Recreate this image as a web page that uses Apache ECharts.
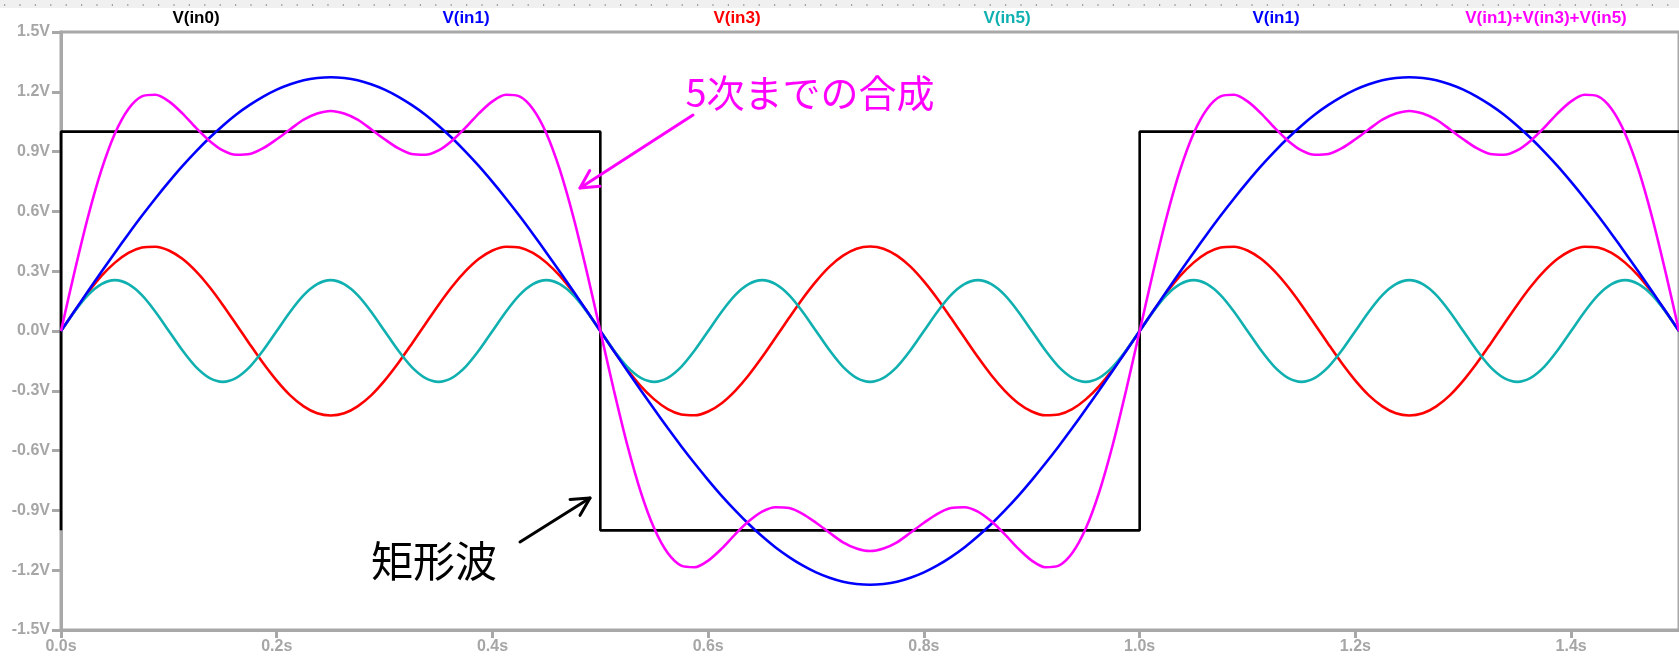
<!DOCTYPE html>
<html>
<head>
<meta charset="utf-8">
<script src="https://cdn.jsdelivr.net/npm/echarts@6/dist/echarts.min.js"></script>
<style>
html, body { margin: 0; padding: 0; background: #fff; }
#main { width: 1679px; height: 661px; }
</style>
</head>
<body>
<div id="main"></div>
<script>
// 時間軸 (s)
var time = [
    0, 0.0125, 0.025, 0.0375, 0.05, 0.0625, 0.075, 0.0875, 0.1, 0.1125,
    0.125, 0.1375, 0.15, 0.1625, 0.175, 0.1875, 0.2, 0.2125, 0.225, 0.2375,
    0.25, 0.2625, 0.275, 0.2875, 0.3, 0.3125, 0.325, 0.3375, 0.35, 0.3625,
    0.375, 0.3875, 0.4, 0.4125, 0.425, 0.4375, 0.45, 0.4625, 0.475, 0.4875,
    0.5,
    0.5125, 0.525, 0.5375, 0.55, 0.5625, 0.575, 0.5875, 0.6, 0.6125, 0.625,
    0.6375, 0.65, 0.6625, 0.675, 0.6875, 0.7, 0.7125, 0.725, 0.7375, 0.75,
    0.7625, 0.775, 0.7875, 0.8, 0.8125, 0.825, 0.8375, 0.85, 0.8625, 0.875,
    0.8875, 0.9, 0.9125, 0.925, 0.9375, 0.95, 0.9625, 0.975, 0.9875, 1.0,
    1.0125, 1.025, 1.0375, 1.05, 1.0625, 1.075, 1.0875, 1.1, 1.1125, 1.125,
    1.1375, 1.15, 1.1625, 1.175, 1.1875, 1.2, 1.2125, 1.225, 1.2375, 1.25,
    1.2625, 1.275, 1.2875, 1.3, 1.3125, 1.325, 1.3375, 1.35, 1.3625, 1.375,
    1.3875, 1.4, 1.4125, 1.425, 1.4375, 1.45, 1.4625, 1.475, 1.4875, 1.5
];

// V(in1) 基本波
var in1 = [
    0, 0.100, 0.199, 0.297, 0.393, 0.487, 0.578, 0.665, 0.748, 0.827,
    0.900, 0.968, 1.030, 1.086, 1.134, 1.176, 1.211, 1.238, 1.258, 1.269,
    1.273, 1.269, 1.258, 1.238, 1.211, 1.176, 1.134, 1.086, 1.030, 0.968,
    0.900, 0.827, 0.748, 0.665, 0.578, 0.487, 0.393, 0.297, 0.199, 0.100,
    0,
    -0.100, -0.199, -0.297, -0.393, -0.487, -0.578, -0.665, -0.748, -0.827, -0.900,
    -0.968, -1.030, -1.086, -1.134, -1.176, -1.211, -1.238, -1.258, -1.269, -1.273,
    -1.269, -1.258, -1.238, -1.211, -1.176, -1.134, -1.086, -1.030, -0.968, -0.900,
    -0.827, -0.748, -0.665, -0.578, -0.487, -0.393, -0.297, -0.199, -0.100, 0,
    0.100, 0.199, 0.297, 0.393, 0.487, 0.578, 0.665, 0.748, 0.827, 0.900,
    0.968, 1.030, 1.086, 1.134, 1.176, 1.211, 1.238, 1.258, 1.269, 1.273,
    1.269, 1.258, 1.238, 1.211, 1.176, 1.134, 1.086, 1.030, 0.968, 0.900,
    0.827, 0.748, 0.665, 0.578, 0.487, 0.393, 0.297, 0.199, 0.100, 0
];

// V(in3) 3次
var in3 = [
    0, 0.099, 0.193, 0.276, 0.343, 0.392, 0.419, 0.423, 0.404, 0.362,
    0.300, 0.222, 0.131, 0.033, -0.066, -0.162, -0.249, -0.323, -0.378, -0.413,
    -0.424, -0.413, -0.378, -0.323, -0.249, -0.162, -0.066, 0.033, 0.131, 0.222,
    0.300, 0.362, 0.404, 0.423, 0.419, 0.392, 0.343, 0.276, 0.193, 0.099,
    0,
    -0.099, -0.193, -0.276, -0.343, -0.392, -0.419, -0.423, -0.404, -0.362, -0.300,
    -0.222, -0.131, -0.033, 0.066, 0.162, 0.249, 0.323, 0.378, 0.413, 0.424,
    0.413, 0.378, 0.323, 0.249, 0.162, 0.066, -0.033, -0.131, -0.222, -0.300,
    -0.362, -0.404, -0.423, -0.419, -0.392, -0.343, -0.276, -0.193, -0.099, 0,
    0.099, 0.193, 0.276, 0.343, 0.392, 0.419, 0.423, 0.404, 0.362, 0.300,
    0.222, 0.131, 0.033, -0.066, -0.162, -0.249, -0.323, -0.378, -0.413, -0.424,
    -0.413, -0.378, -0.323, -0.249, -0.162, -0.066, 0.033, 0.131, 0.222, 0.300,
    0.362, 0.404, 0.423, 0.419, 0.392, 0.343, 0.276, 0.193, 0.099, 0
];

// V(in5) 5次
var in5 = [
    0, 0.097, 0.180, 0.235, 0.255, 0.235, 0.180, 0.097, 0, -0.097,
    -0.180, -0.235, -0.255, -0.235, -0.180, -0.097, 0, 0.097, 0.180, 0.235,
    0.255, 0.235, 0.180, 0.097, 0, -0.097, -0.180, -0.235, -0.255, -0.235,
    -0.180, -0.097, 0, 0.097, 0.180, 0.235, 0.255, 0.235, 0.180, 0.097,
    0,
    -0.097, -0.180, -0.235, -0.255, -0.235, -0.180, -0.097, 0, 0.097, 0.180,
    0.235, 0.255, 0.235, 0.180, 0.097, 0, -0.097, -0.180, -0.235, -0.255,
    -0.235, -0.180, -0.097, 0, 0.097, 0.180, 0.235, 0.255, 0.235, 0.180,
    0.097, 0, -0.097, -0.180, -0.235, -0.255, -0.235, -0.180, -0.097, 0,
    0.097, 0.180, 0.235, 0.255, 0.235, 0.180, 0.097, 0, -0.097, -0.180,
    -0.235, -0.255, -0.235, -0.180, -0.097, 0, 0.097, 0.180, 0.235, 0.255,
    0.235, 0.180, 0.097, 0, -0.097, -0.180, -0.235, -0.255, -0.235, -0.180,
    -0.097, 0, 0.097, 0.180, 0.235, 0.255, 0.235, 0.180, 0.097, 0
];

// V(in1)+V(in3)+V(in5) 5次までの合成
var sum135 = [
    0, 0.296, 0.572, 0.808, 0.991, 1.114, 1.177, 1.185, 1.152, 1.092,
    1.020, 0.955, 0.906, 0.884, 0.888, 0.917, 0.962, 1.012, 1.060, 1.091,
    1.104, 1.091, 1.060, 1.012, 0.962, 0.917, 0.888, 0.884, 0.906, 0.955,
    1.020, 1.092, 1.152, 1.185, 1.177, 1.114, 0.991, 0.808, 0.572, 0.296,
    0,
    -0.296, -0.572, -0.808, -0.991, -1.114, -1.177, -1.185, -1.152, -1.092, -1.020,
    -0.955, -0.906, -0.884, -0.888, -0.917, -0.962, -1.012, -1.060, -1.091, -1.104,
    -1.091, -1.060, -1.012, -0.962, -0.917, -0.888, -0.884, -0.906, -0.955, -1.020,
    -1.092, -1.152, -1.185, -1.177, -1.114, -0.991, -0.808, -0.572, -0.296, 0,
    0.296, 0.572, 0.808, 0.991, 1.114, 1.177, 1.185, 1.152, 1.092, 1.020,
    0.955, 0.906, 0.884, 0.888, 0.917, 0.962, 1.012, 1.060, 1.091, 1.104,
    1.091, 1.060, 1.012, 0.962, 0.917, 0.888, 0.884, 0.906, 0.955, 1.020,
    1.092, 1.152, 1.185, 1.177, 1.114, 0.991, 0.808, 0.572, 0.296, 0
];

// V(in0) 矩形波
var sqTime = [0, 0, 0.5, 0.5, 1.0, 1.0, 1.5];
var sqVal = [-1, 1, 1, -1, -1, 1, 1];

// 上部のトレース名
var traceNames = ['V(in0)', 'V(in1)', 'V(in3)', 'V(in5)', 'V(in1)', 'V(in1)+V(in3)+V(in5)'];
var traceColors = ['#000000', '#0000ff', '#ff0000', '#11b0b0', '#0000ff', '#ff00ff'];

function pairs(xs, ys) {
    return ys.map(function (v, i) {
        return [xs[i], v];
    });
}

/**
 * 矢印 (開いた矢じり)
 */
function arrow(x1, y1, x2, y2, color) {
    var dx = x1 - x2, dy = y1 - y2;
    var len = Math.sqrt(dx * dx + dy * dy);
    var ux = dx / len, uy = dy / len;
    var a = 28 * Math.PI / 180, h = 20;
    var c = Math.cos(a), s = Math.sin(a);
    var p1 = [x2 + h * (ux * c - uy * s), y2 + h * (ux * s + uy * c)];
    var p2 = [x2 + h * (ux * c + uy * s), y2 + h * (-ux * s + uy * c)];
    var st = {stroke: color, lineWidth: 3, fill: null, lineCap: 'round', lineJoin: 'round'};
    return [
        {type: 'line', shape: {x1: x1, y1: y1, x2: x2, y2: y2}, style: st, z: 100},
        {type: 'polyline', shape: {points: [p1, [x2, y2], p2]}, style: st, z: 100}
    ];
}

var chart = echarts.init(document.getElementById('main'));

var graphics = [
    {type: 'rect', shape: {x: 0, y: 0, width: 1679, height: 8}, style: {fill: '#f0f0f0'}, z: 50},
    {type: 'line', shape: {x1: 4, y1: 5, x2: 1679, y2: 5}, style: {stroke: '#555', lineWidth: 1.2, lineDash: [1.2, 14.2]}, z: 51},
    {type: 'text', style: {text: '5次までの合成', x: 810, y: 93, fill: '#ff00ff', font: '38px "Noto Sans CJK JP"', textAlign: 'center', textVerticalAlign: 'middle'}, z: 100},
    {type: 'text', style: {text: '矩形波', x: 434, y: 561, fill: '#000', font: '42px "Noto Sans CJK JP"', textAlign: 'center', textVerticalAlign: 'middle'}, z: 100}
];
var labelX = [196, 466, 737, 1007, 1276, 1546];
traceNames.forEach(function (name, i) {
    graphics.push({
        type: 'text',
        style: {
            text: name, x: labelX[i], y: 18, fill: traceColors[i],
            font: 'bold 17px "Liberation Sans", Arial, sans-serif',
            textAlign: 'center', textVerticalAlign: 'middle'
        },
        z: 100
    });
});
graphics = graphics.concat(arrow(693, 115, 580, 188, '#ff00ff'));
graphics = graphics.concat(arrow(520, 542, 590, 498, '#000000'));

function lineSeries(name, data, color, smooth) {
    return {
        name: name,
        type: 'line',
        data: data,
        smooth: smooth,
        showSymbol: false,
        clip: false,
        lineStyle: {color: color, width: 2.6},
        emphasis: {disabled: true}
    };
}

chart.setOption({
    animation: false,
    backgroundColor: '#ffffff',
    grid: {
        left: 61,
        right: -2,
        top: 32,
        bottom: 31,
        show: true,
        borderColor: '#a8a8a8',
        borderWidth: 3,
        backgroundColor: 'transparent'
    },
    xAxis: {
        type: 'value',
        min: 0,
        max: 1.5,
        interval: 0.2,
        splitLine: {show: false},
        axisLine: {onZero: false, lineStyle: {color: '#a8a8a8', width: 3}},
        axisTick: {length: 8, lineStyle: {color: '#a8a8a8', width: 3}},
        axisLabel: {
            showMaxLabel: false,
            margin: 9,
            color: '#a6a6a6',
            fontSize: 16,
            fontWeight: 'bold',
            fontFamily: 'Liberation Sans',
            formatter: function (v) { return v.toFixed(1) + 's'; }
        }
    },
    yAxis: {
        type: 'value',
        min: -1.5,
        max: 1.5,
        interval: 0.3,
        splitLine: {show: false},
        axisLine: {lineStyle: {color: '#a8a8a8', width: 3}},
        axisTick: {length: 9, lineStyle: {color: '#a8a8a8', width: 3}},
        axisLabel: {
            margin: 11,
            color: '#a6a6a6',
            fontSize: 16,
            fontWeight: 'bold',
            fontFamily: 'Liberation Sans',
            formatter: function (v) {
                if (Math.abs(v) < 1e-9) v = 0;
                return v.toFixed(1) + 'V';
            }
        }
    },
    series: [
        lineSeries('V(in0)', pairs(sqTime, sqVal), '#000000', false),
        lineSeries('V(in3)', pairs(time, in3), '#ff0000', 0.3),
        lineSeries('V(in5)', pairs(time, in5), '#11b0b0', 0.3),
        lineSeries('V(in1)', pairs(time, in1), '#0000ff', 0.3),
        lineSeries('V(in1)+V(in3)+V(in5)', pairs(time, sum135), '#ff00ff', 0.3)
    ],
    graphic: graphics
});

window.onresize = function () {
    chart.resize();
};
</script>
</body>
</html>
